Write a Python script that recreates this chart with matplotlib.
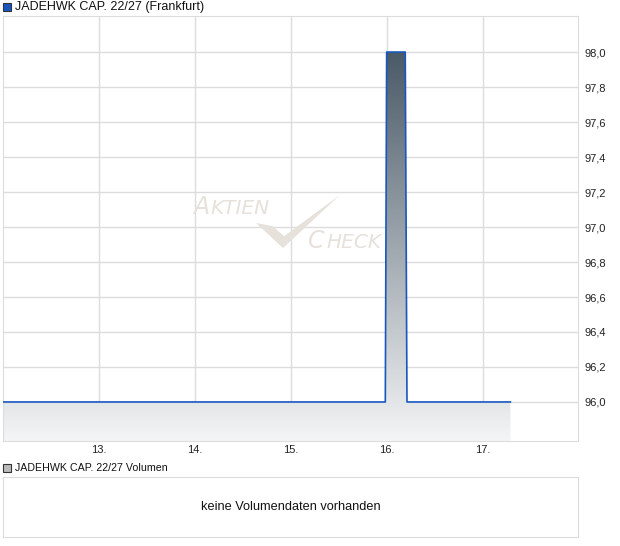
import numpy as np
import matplotlib
matplotlib.use("Agg")
from matplotlib import pyplot as plt
from matplotlib.patches import Rectangle, Polygon
from matplotlib.colors import LinearSegmentedColormap

plt.rcParams["font.family"] = ["Liberation Sans", "DejaVu Sans"]

# data: day of month vs. price
days = [12.0, 15.986, 16.0, 16.194, 16.212, 17.29]
prices = [96.0, 96.0, 98.0, 98.0, 96.0, 96.0]

xticks = [13, 14, 15, 16, 17]
xlabels = ["13.", "14.", "15.", "16.", "17."]
yticks = [96.0, 96.2, 96.4, 96.6, 96.8, 97.0, 97.2, 97.4, 97.6, 97.8, 98.0]
ylabels = [f"{v:.1f}".replace(".", ",") for v in yticks]

title = "JADEHWK CAP. 22/27 (Frankfurt)"
vol_title = "JADEHWK CAP. 22/27 Volumen"
vol_msg = "keine Volumendaten vorhanden"

W, H = 620, 546
fig = plt.figure(figsize=(W / 100, H / 100), dpi=100)

def box(l, t, r, b):
    return [l / W, 1 - b / H, (r - l) / W, (b - t) / H]

grid_c = "#dcdcdc"
line_c = "#1a56c0"

ax = fig.add_axes(box(3, 16, 578, 441))
ymin, ymax = 95.777, 98.206
ax.set_xlim(12.0, 17.995)
ax.set_ylim(ymin, ymax)

# gradient fill under the line
cmap = LinearSegmentedColormap.from_list("g", ["#4a5a67", "#f4f5f6"])
poly = ax.fill_between(days, prices, ymin, color="none", lw=0)
grad = np.linspace(0, 1, 256).reshape(-1, 1)
im = ax.imshow(grad, cmap=cmap, aspect="auto", origin="upper",
               extent=[days[0], days[-1], ymin, max(prices)], zorder=1)
im.set_clip_path(poly.get_paths()[0], transform=ax.transData)
ax.plot(days, prices, color=line_c, lw=1.2, zorder=3)

ax.set_xticks(xticks)
ax.set_xticklabels(xlabels)
ax.set_yticks(yticks)
ax.set_yticklabels(ylabels)
ax.yaxis.tick_right()
ax.tick_params(length=0, labelsize=8, colors="#222222")
ax.tick_params(axis="x", pad=3)
ax.tick_params(axis="y", pad=5)
ax.grid(True, color=grid_c, lw=1, zorder=0)
ax.set_axisbelow(True)
for s in ax.spines.values():
    s.set_color(grid_c)

# watermark
wm = "#e6e1db"
wfam = ["DejaVu Sans"]
ax.text(0.331, 0.535, "A", transform=ax.transAxes, fontsize=17, style="italic",
        color=wm, zorder=2, family=wfam)
ax.text(0.360, 0.535, "KTIEN", transform=ax.transAxes, fontsize=14.5,
        style="italic", color=wm, zorder=2, family=wfam)
ax.text(0.530, 0.455, "C", transform=ax.transAxes, fontsize=17, style="italic",
        color=wm, zorder=2, family=wfam)
ax.text(0.563, 0.455, "HECK", transform=ax.transAxes, fontsize=14.5,
        style="italic", color=wm, zorder=2, family=wfam)
tick_pts = [(0.440, 0.513), (0.468, 0.506), (0.489, 0.482), (0.586, 0.579),
            (0.487, 0.454)]
ax.add_patch(Polygon(tick_pts, closed=True, transform=ax.transAxes,
                     color=wm, lw=0, zorder=2))

# legend-like headers
fig.patches.append(Rectangle((3 / W, 1 - 11 / H), 8 / W, 8 / H,
                             transform=fig.transFigure, facecolor=line_c,
                             edgecolor="#333333", lw=0.8))
fig.text(15 / W, 1 - 7 / H, title, fontsize=9, va="center", color="#111111")
fig.patches.append(Rectangle((3 / W, 1 - 472 / H), 8 / W, 8 / H,
                             transform=fig.transFigure, facecolor="#bbbbbb",
                             edgecolor="#333333", lw=0.8))
fig.text(15 / W, 1 - 468 / H, vol_title, fontsize=7.7, va="center",
         color="#111111")

# volume panel
axv = fig.add_axes(box(3, 477, 578, 537))
axv.set_xticks([])
axv.set_yticks([])
for s in axv.spines.values():
    s.set_color(grid_c)
axv.text(0.5, 0.5, vol_msg, transform=axv.transAxes, ha="center", va="center",
         fontsize=9.2, color="#111111")

fig.savefig("out.png", dpi=100)
